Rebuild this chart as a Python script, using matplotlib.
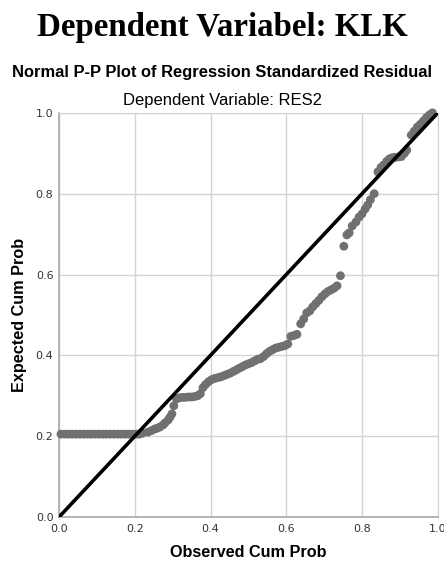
import numpy as np
import matplotlib.pyplot as plt

# observed / expected cumulative probabilities
obs_flat = [0.005, 0.015, 0.025, 0.035, 0.045, 0.055, 0.065, 0.075, 0.085, 0.095,
            0.105, 0.115, 0.125, 0.135, 0.145, 0.155, 0.165, 0.175, 0.185, 0.195, 0.205, 0.212]
exp_flat = [0.205] * len(obs_flat)

obs_rest = [0.22, 0.235, 0.245, 0.253, 0.26, 0.267, 0.275, 0.28, 0.288, 0.293, 0.298,
            0.303, 0.31, 0.318, 0.326, 0.334, 0.342, 0.35, 0.358, 0.366, 0.373, 0.38,
            0.387, 0.395, 0.403, 0.412, 0.42, 0.428, 0.436, 0.444, 0.452, 0.46, 0.468,
            0.476, 0.484, 0.492, 0.5, 0.508, 0.516, 0.524, 0.532, 0.54, 0.548, 0.556,
            0.564, 0.572, 0.58, 0.588, 0.596, 0.604, 0.612, 0.62, 0.628, 0.638, 0.646,
            0.654, 0.662, 0.67, 0.678, 0.686, 0.694, 0.702, 0.71, 0.718, 0.726, 0.734,
            0.743, 0.752, 0.76, 0.766, 0.774, 0.784, 0.792, 0.8, 0.808, 0.815, 0.822,
            0.832, 0.842, 0.85, 0.857, 0.865, 0.872, 0.88, 0.888, 0.896, 0.904, 0.912,
            0.918, 0.93, 0.938, 0.946, 0.954, 0.962, 0.97, 0.978, 0.986]
exp_rest = [0.207, 0.21, 0.214, 0.218, 0.22, 0.223, 0.228, 0.233, 0.24, 0.247, 0.255,
            0.275, 0.292, 0.295, 0.296, 0.296, 0.297, 0.297, 0.298, 0.3, 0.305, 0.32,
            0.328, 0.335, 0.34, 0.343, 0.345, 0.347, 0.35, 0.353, 0.356, 0.36, 0.364,
            0.368, 0.372, 0.376, 0.379, 0.382, 0.386, 0.39, 0.392, 0.397, 0.404, 0.41,
            0.414, 0.418, 0.42, 0.422, 0.424, 0.428, 0.447, 0.449, 0.452, 0.478, 0.49,
            0.505, 0.51, 0.52, 0.528, 0.536, 0.545, 0.552, 0.558, 0.562, 0.566, 0.572,
            0.597, 0.67, 0.698, 0.703, 0.72, 0.73, 0.742, 0.75, 0.762, 0.772, 0.785,
            0.8, 0.854, 0.865, 0.871, 0.88, 0.886, 0.889, 0.89, 0.891, 0.892, 0.9,
            0.908, 0.945, 0.955, 0.965, 0.972, 0.98, 0.988, 0.995, 1.0]

obs = obs_flat + obs_rest
exp = exp_flat + exp_rest
ticks = [0.0, 0.2, 0.4, 0.6, 0.8, 1.0]
tick_labels = ['0.0', '0.2', '0.4', '0.6', '0.8', '1.0']

fig = plt.figure(figsize=(4.44, 5.70), dpi=100)
ax = fig.add_axes([0.133, 0.093, 0.853, 0.709])

ax.scatter(obs, exp, s=40, color='#707070', edgecolors='none', zorder=3, clip_on=False)
ax.plot([0, 1], [0, 1], color='black', lw=2.6, zorder=4)

ax.set_xlim(0, 1)
ax.set_ylim(0, 1)
ax.set_xticks(ticks)
ax.set_yticks(ticks)
ax.set_xticklabels(tick_labels)
ax.set_yticklabels(tick_labels)
ax.tick_params(length=0, labelsize=8, colors='#333333')
ax.tick_params(axis='x', pad=5)
ax.tick_params(axis='y', pad=4)
ax.grid(True, color='#d3d3d3', lw=1)
ax.set_axisbelow(True)
for side in ['top', 'right']:
    ax.spines[side].set_color('#d3d3d3')
for side in ['left', 'bottom']:
    ax.spines[side].set_color('#a8a8a8')
    ax.spines[side].set_linewidth(1.2)

ax.set_xlabel('Observed Cum Prob', fontsize=11.7, fontweight='bold',
              family='Liberation Sans', labelpad=8)
ax.set_ylabel('Expected Cum Prob', fontsize=11.7, fontweight='bold',
              family='Liberation Sans', labelpad=6)

fig.text(0.5, 0.951, 'Dependent Variabel: KLK', ha='center', va='center',
         fontsize=23.7, fontweight='bold', family='Liberation Serif')
fig.text(0.5, 0.872, 'Normal P-P Plot of Regression Standardized Residual',
         ha='center', va='center', fontsize=11.9, fontweight='bold', family='Liberation Sans')
fig.text(0.5, 0.823, 'Dependent Variable: RES2', ha='center', va='center',
         fontsize=12, family='Liberation Sans')

fig.savefig('out.png', dpi=100)
